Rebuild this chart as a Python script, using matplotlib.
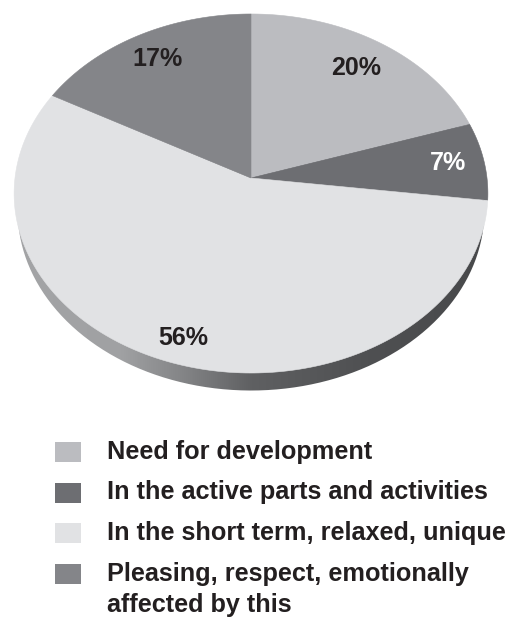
import numpy as np
import matplotlib
matplotlib.use("Agg")
import matplotlib.pyplot as plt
from matplotlib.patches import PathPatch, Rectangle
from matplotlib.path import Path
from matplotlib.colors import LinearSegmentedColormap

plt.rcParams["font.family"] = ["Liberation Sans", "DejaVu Sans"]

# Survey shares, clockwise from twelve o'clock
categories = [
    "Need for development",
    "In the active parts and activities",
    "In the short term, relaxed, unique",
    "Pleasing, respect, emotionally\naffected by this",
]
shares = [20, 7, 56, 17]
share_labels = ["20%", "7%", "56%", "17%"]
slice_colors = ["#bbbcc0", "#6d6e72", "#e1e2e4", "#848589"]
label_colors = ["#231f20", "#ffffff", "#231f20", "#231f20"]

# Layout, in figure pixels
WIDTH, HEIGHT = 510, 617
APEX_X, APEX_Y = 251.0, 178.0
RADIUS_X = 236.0
RADIUS_Y = -162.8
TILT = 0.08635
DEPTH = 17.5
RIM_SHRINK = 0.985
INK = "#231f20"


def project(angle_cw, radius=1.0):
    """Map a polar position on the pie disc to the tilted view."""
    u = radius * np.sin(angle_cw)
    v = radius * np.cos(angle_cw)
    w = 1 + TILT * v
    return APEX_X + RADIUS_X * u / w, (APEX_Y + RADIUS_Y * v) / w


fig = plt.figure(figsize=(WIDTH / 100, HEIGHT / 100), dpi=100, facecolor="white")
ax = fig.add_axes([0, 0, 1, 1])
ax.set_xlim(0, WIDTH)
ax.set_ylim(HEIGHT, 0)
ax.axis("off")

# Rim: a horizontal gradient clipped to the outline of the disc's underside
around = np.linspace(0, 2 * np.pi, 720)
ux, uy = project(around)
under = np.column_stack([APEX_X + (ux - APEX_X) * RIM_SHRINK, uy + DEPTH])
rim_patch = PathPatch(Path(under), facecolor="none", edgecolor="none")
ax.add_patch(rim_patch)
rim_cmap = LinearSegmentedColormap.from_list(
    "rim",
    [(0.0, "#a3a4a6"), (0.22, "#a0a1a3"), (0.36, "#828385"),
     (0.5, "#5f6062"), (0.75, "#4f5052"), (1.0, "#48494b")],
)
gradient = np.linspace(0, 1, 512)[None, :]
rim = ax.imshow(gradient, cmap=rim_cmap, aspect="auto",
                extent=[under[:, 0].min(), under[:, 0].max(), HEIGHT, 0], zorder=1)
rim.set_clip_path(rim_patch)
ax.set_xlim(0, WIDTH)
ax.set_ylim(HEIGHT, 0)

# Slices of the disc
edges = np.cumsum([0] + shares) / sum(shares) * 2 * np.pi
for start, stop, color in zip(edges[:-1], edges[1:], slice_colors):
    a = np.linspace(start, stop, 200)
    x, y = project(a)
    ax.fill(np.r_[APEX_X, x], np.r_[APEX_Y, y], facecolor=color,
            edgecolor=color, linewidth=0.4, zorder=2)

# Percentage labels
label_positions = [(356, 68), (448, 163), (183, 338), (158, 59)]
for text, color, (px, py) in zip(share_labels, label_colors, label_positions):
    ax.text(px, py, text, color=color, fontsize=18, fontweight="bold",
            ha="center", va="center", zorder=3)

# Key below the pie
swatch_tops = [442, 483, 523, 564]
text_baselines = [459, 499, 540, 581]
for name, color, top, base in zip(categories, slice_colors, swatch_tops, text_baselines):
    ax.add_patch(Rectangle((55.5, top), 26, 20, facecolor=color, edgecolor="none"))
    for i, line in enumerate(name.split("\n")):
        ax.text(107, base + 31 * i, line, color=INK, fontsize=18.2, fontweight="bold",
                ha="left", va="baseline")

fig.savefig("out.png", dpi=100)
